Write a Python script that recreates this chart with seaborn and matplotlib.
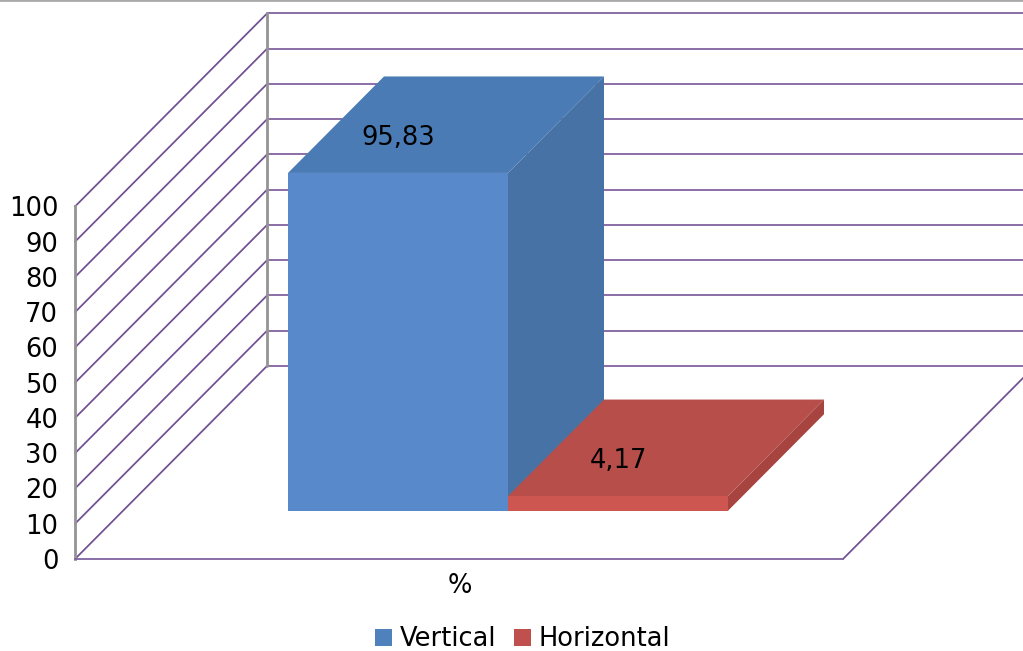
import matplotlib
matplotlib.use("Agg")
import matplotlib.pyplot as plt
import pandas as pd
import seaborn as sns
from matplotlib.patches import Polygon

# Survey result: share of each orientation, in percent
categories = ["%"]
series_names = ["Vertical", "Horizontal"]
series_values = [95.83, 4.17]
value_labels = ["95,83", "4,17"]
value_ticks = [0, 10, 20, 30, 40, 50, 60, 70, 80, 90, 100]

# Face shades of each box: front, top, side
front_colors = ["#5789CB", "#CD5650"]
top_colors = ["#4A7BB5", "#B84E49"]
side_colors = ["#4672A6", "#A8443F"]
legend_colors = ["#4F81BD", "#C0504D"]
grid_color = "#8163A0"
diag_color = "#6F4F92"
wall_color = "#949494"

W, H = 1023, 651
PX_PER_CAT = 550.0
PX_PER_VAL = 3.525
CENTER_PX = 460.0
ORIGIN_PX = 559.0

# Oblique projection: depth runs from the front plane (0) to the back wall (1)
DEPTH_X = 192.0 / PX_PER_CAT
DEPTH_Y = 193.0 / PX_PER_VAL
BAR_FRONT = 0.25
BAR_BACK = 0.75
FLOOR_LEFT = (75.0 - CENTER_PX) / PX_PER_CAT
FLOOR_RIGHT = (843.0 - CENTER_PX) / PX_PER_CAT


def project(x, v, depth):
    return x + depth * DEPTH_X, v + depth * DEPTH_Y


sns.set_theme(style="white")
plt.rcParams["font.family"] = ["DejaVu Sans"]
FONT = 18.5

frame = pd.DataFrame({
    "category": categories * len(series_names),
    "series": series_names,
    "value": series_values,
})

fig = plt.figure(figsize=(W / 100, H / 100), dpi=100)
ax = fig.add_axes([0, 0, 1, 1])

sns.barplot(
    data=frame, x="category", y="value", hue="series",
    hue_order=series_names, palette=front_colors, saturation=1,
    width=0.8, gap=0, dodge=True, linewidth=0, ax=ax, zorder=3,
)

ax.set_xlim((0 - CENTER_PX) / PX_PER_CAT, (W - CENTER_PX) / PX_PER_CAT)
ax.set_ylim((ORIGIN_PX - H) / PX_PER_VAL, ORIGIN_PX / PX_PER_VAL)
ax.set_xlabel("")
ax.set_ylabel("")
ax.patch.set_alpha(0)

# Left wall diagonals and back wall gridlines
x_end = ax.get_xlim()[1]
for v in value_ticks:
    x0, y0 = project(FLOOR_LEFT, v, 0)
    x1, y1 = project(FLOOR_LEFT, v, 1)
    ax.plot([x0, x1], [y0, y1], color=diag_color, lw=1.25, zorder=1)
    ax.plot([x1, x_end], [y1, y1], color=grid_color, lw=1.3, zorder=1)

# Back wall edge
xb0, yb0 = project(FLOOR_LEFT, value_ticks[0], 1)
xb1, yb1 = project(FLOOR_LEFT, value_ticks[-1], 1)
ax.plot([xb0, xb1], [yb0, yb1], color=wall_color, lw=2, zorder=1.5)

# Right edge of the floor
xf0, yf0 = project(FLOOR_RIGHT, 0, 0)
xf1, yf1 = project(FLOOR_RIGHT, 0, 1)
ax.plot([xf0, xf1], [yf0, yf1], color=diag_color, lw=1.25, zorder=1)

# Turn each seaborn bar into a box by pushing it back and adding its top and side
for i, patch in enumerate(ax.patches[:len(series_values)]):
    left, right = patch.get_x(), patch.get_x() + patch.get_width()
    value = patch.get_height()
    top = Polygon(
        [project(left, value, BAR_FRONT), project(right, value, BAR_FRONT),
         project(right, value, BAR_BACK), project(left, value, BAR_BACK)],
        closed=True, facecolor=top_colors[i], edgecolor="none", zorder=2 + i * 1.5,
    )
    side = Polygon(
        [project(right, 0, BAR_FRONT), project(right, value, BAR_FRONT),
         project(right, value, BAR_BACK), project(right, 0, BAR_BACK)],
        closed=True, facecolor=side_colors[i], edgecolor="none", zorder=2 + i * 1.5,
    )
    ax.add_patch(side)
    ax.add_patch(top)
    fx, fy = project(left, 0, BAR_FRONT)
    patch.set_x(fx)
    patch.set_y(fy)
    patch.set_zorder(3 + i * 1.5)
    ax.text(
        fx + patch.get_width() / 2, fy + value + 35 / PX_PER_VAL, value_labels[i],
        ha="center", va="center", fontsize=FONT, color="black", zorder=8,
    )

# Axis lines and tick labels sit on the front plane
ax.set_yticks(value_ticks)
ax.set_yticklabels([str(v) for v in value_ticks])
ax.tick_params(axis="y", length=0, pad=12, labelsize=FONT, colors="black")
ax.tick_params(axis="x", length=0, pad=10, labelsize=FONT, colors="black")
ax.spines["left"].set_position(("data", FLOOR_LEFT))
ax.spines["left"].set_bounds(value_ticks[0], value_ticks[-1])
ax.spines["left"].set_color(wall_color)
ax.spines["left"].set_linewidth(2)
ax.spines["bottom"].set_position(("data", 0))
ax.spines["bottom"].set_bounds(FLOOR_LEFT, FLOOR_RIGHT)
ax.spines["bottom"].set_color(grid_color)
ax.spines["bottom"].set_linewidth(1.3)
ax.spines["right"].set_visible(False)
ax.spines["top"].set_color("#AAAAAA")
ax.spines["top"].set_linewidth(2)

sns.move_legend(
    ax, "lower center", bbox_to_anchor=(522.5 / W, -0.002), ncols=2, title=None,
    frameon=False, fontsize=FONT, labelcolor="black", handlelength=0.66,
    handleheight=0.66, handletextpad=0.3, columnspacing=0.68, borderpad=0,
    borderaxespad=0,
)
for handle, color in zip(ax.get_legend().legend_handles, legend_colors):
    handle.set_facecolor(color)

fig.savefig("out.png", dpi=100)
